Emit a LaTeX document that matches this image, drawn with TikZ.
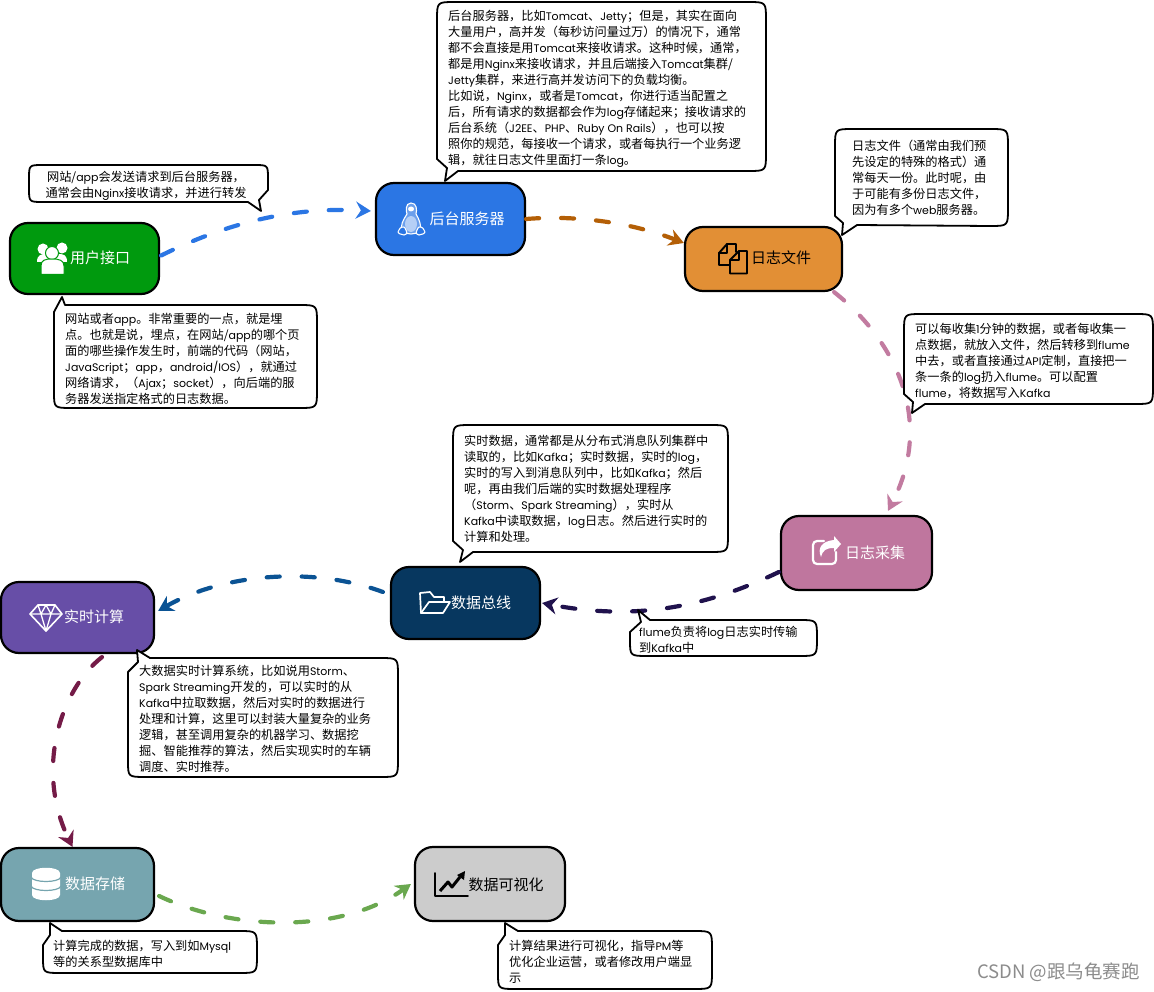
\documentclass[tikz,border=0pt]{standalone}
\usepackage{fontspec}
\setmainfont{Noto Sans CJK SC}
\newfontfamily\latfont[Scale=0.9]{Poppins}
\newcommand\la[1]{{\latfont #1}}
\usetikzlibrary{arrows.meta}
\definecolor{cuser}{HTML}{009A0E}
\definecolor{cserver}{HTML}{2B76E4}
\definecolor{clog}{HTML}{E28F35}
\definecolor{ccollect}{HTML}{BF769E}
\definecolor{cbus}{HTML}{07375F}
\definecolor{ccalc}{HTML}{674EA7}
\definecolor{cstore}{HTML}{76A5AF}
\definecolor{cvis}{HTML}{CCCCCC}
\definecolor{lbrown}{HTML}{B45F06}
\definecolor{lpink}{HTML}{C27BA0}
\definecolor{lnavy}{HTML}{20124D}
\definecolor{lblue}{HTML}{0B5394}
\definecolor{lmaroon}{HTML}{741B47}
\definecolor{lgreen}{HTML}{6AA84F}
\tikzset{
  flowbox/.style={draw=black,line width=2.2pt,rounded corners=18pt,inner sep=0pt},
  flowtext/.style={font=\fontsize{15}{18}\selectfont,text=white,inner sep=0pt},
  conn/.style={line width=4.2pt,line cap=round,dash pattern=on 13pt off 22pt,-{Stealth[length=15pt,width=17pt,inset=5pt]}},
  callbox/.style={draw=black,line width=1.8pt,fill=white,line join=round},
  calltext/.style={font=\fontsize{12.2}{16}\selectfont,anchor=west,align=left,inner sep=0pt,text=black},
  iconw/.style={draw=white,line width=1.7pt,line join=round,line cap=round},
  iconk/.style={draw=black,line width=1.9pt,line join=round,line cap=round}
}
% callouts: tail at bottom-left, top-left, bottom-right
\newcommand\boxBL[5]{\draw[callbox] (#1+18,#2) -- (#3-18,#2) .. controls (#3,#2) .. (#3,#2+18) -- (#3,#4-18) .. controls (#3,#4) .. (#3-18,#4) -- #5 -- (#1,#2+18) .. controls (#1,#2) .. (#1+18,#2) -- cycle;}
\newcommand\boxTL[5]{\draw[callbox] (#3-18,#2) .. controls (#3,#2) .. (#3,#2+18) -- (#3,#4-18) .. controls (#3,#4) .. (#3-18,#4) -- (#1+18,#4) .. controls (#1,#4) .. (#1,#4-16) -- #5 -- cycle;}
\newcommand\boxBR[5]{\draw[callbox] (#1+14,#2) -- (#3-14,#2) .. controls (#3,#2) .. (#3,#2+14) -- #5 -- (#1+14,#4) .. controls (#1,#4) .. (#1,#4-14) -- (#1,#2+14) .. controls (#1,#2) .. (#1+14,#2) -- cycle;}
\begin{document}
\begin{tikzpicture}[x=1pt,y=-1pt]
\useasboundingbox[fill=white] (0,0) rectangle (1154,992);

% flow boxes
\node[flowbox,fill=cuser,minimum width=149pt,minimum height=71pt] (user) at (84.5,258.5) {};
\node[flowbox,fill=cserver,minimum width=149pt,minimum height=72pt] (server) at (450.5,219) {};
\node[flowbox,fill=clog,minimum width=157pt,minimum height=64pt] (logf) at (763.5,259) {};
\node[flowbox,fill=ccollect,minimum width=151pt,minimum height=74pt] (collect) at (856.5,553) {};
\node[flowbox,fill=cbus,minimum width=149pt,minimum height=72pt] (bus) at (465.5,603) {};
\node[flowbox,fill=ccalc,minimum width=153pt,minimum height=71pt] (calc) at (77.5,617.5) {};
\node[flowbox,fill=cstore,minimum width=153pt,minimum height=73pt] (store) at (77.5,884.5) {};
\node[flowbox,fill=cvis,minimum width=150pt,minimum height=74pt] (vis) at (490,884) {};

% flow labels
\node[flowtext] (tuser) at (100,258) {用户接口};
\node[flowtext] (tserver) at (467,219) {后台服务器};
\node[flowtext,text=black] (tlog) at (781,258) {日志文件};
\node[flowtext] (tcollect) at (875,553) {日志采集};
\node[flowtext] (tbus) at (481,603) {数据总线};
\node[flowtext] (tcalc) at (94,617) {实时计算};
\node[flowtext] (tstore) at (95,884) {数据存储};
\node[flowtext,text=black] (tvis) at (506,885) {数据可视化};

% connectors
\draw[conn,draw=cserver] ([xshift=1pt,yshift=3pt]user.east) .. controls (235,219) and (300,207) .. ([xshift=-4pt,yshift=8pt]server.west);
\draw[conn,draw=lbrown] (server.east) .. controls (575,215) and (630,222) .. ([yshift=16pt]logf.west);
\draw[conn,draw=lpink] ([xshift=-9pt]logf.south east) .. controls (895,340) and (935,420) .. ([xshift=31.5pt,yshift=4pt]collect.north);
\draw[conn,draw=lnavy] ([xshift=-1pt,yshift=-19pt]collect.west) .. controls (700,610) and (630,620) .. ([xshift=1pt]bus.east);
\draw[conn,draw=lblue] ([xshift=-7pt,yshift=11pt]bus.west) .. controls (310,565) and (220,575) .. ([xshift=3pt,yshift=6.5pt]calc.east);
\draw[conn,draw=lmaroon] ([xshift=24.5pt,yshift=-3pt]calc.south) .. controls (60,690) and (35,770) .. ([xshift=-5pt]store.north);
\draw[conn,draw=lgreen] ([xshift=4pt,yshift=-11.5pt]store.east) .. controls (230,930) and (340,935) .. ([xshift=-3pt]vis.west);

% callouts
\boxBR{29}{165}{268}{202}{(268,190) -- (259,200) -- (261,211) -- (248,202)}
\node[calltext,align=center,anchor=center] (c1) at (146,186) {网站/\la{app}会发送请求到后台服务器，\\通常会由\la{Nginx}接收请求，并进行转发};

\boxTL{54}{305}{317}{408}{(54,318) -- (54,312) -- (62,297) -- (65,305) -- (77,305)}
\node[calltext] (c2) at (65,359) {网站或者\la{app}。非常重要的一点，就是埋\\点。也就是说，埋点，在网站/\la{app}的哪个页\\面的哪些操作发生时，前端的代码（网站，\\\la{JavaScript}；\la{app}，\la{android/IOS}），就通过\\网络请求，（\la{Ajax}；\la{socket}），向后端的服\\务器发送指定格式的日志数据。};

\boxBL{437}{2}{766}{171}{(458,171) -- (445,181) -- (447,168) -- (437,159)}
\node[calltext] (c3) at (448,88.5) {后台服务器，比如\la{Tomcat}、\la{Jetty}；但是，其实在面向\\大量用户，高并发（每秒访问量过万）的情况下，通常\\都不会直接是用\la{Tomcat}来接收请求。这种时候，通常，\\都是用\la{Nginx}来接收请求，并且后端接入\la{Tomcat}集群/\\\la{Jetty}集群，来进行高并发访问下的负载均衡。\\比如说，\la{Nginx}，或者是\la{Tomcat}，你进行适当配置之\\后，所有请求的数据都会作为\la{log}存储起来；接收请求的\\后台系统（\la{J2EE}、\la{PHP}、\la{Ruby On Rails}），也可以按\\照你的规范，每接收一个请求，或者每执行一个业务逻\\辑，就往日志文件里面打一条\la{log}。};

\boxBL{835}{129}{1008}{226}{(857,225) -- (842,235) -- (843,223) -- (835,216)}
\node[calltext] (c4) at (852,178) {日志文件（通常由我们预\\先设定的特殊的格式）通\\常每天一份。此时呢，由\\于可能有多份日志文件，\\因为有多个\la{web}服务器。};

\boxBL{904}{314}{1153}{404}{(925,404) -- (912,413) -- (913,402) -- (904,394)}
\node[calltext] (c5) at (915,361) {可以每收集\la{1}分钟的数据，或者每收集一\\点数据，就放入文件，然后转移到\la{flume}\\中去，或者直接通过\la{API}定制，直接把一\\条一条的\la{log}扔入\la{flume}。可以配置\\\la{flume}，将数据写入\la{Kafka}};

\boxBL{453}{425}{728}{552}{(473,552) -- (460,562) -- (463,550) -- (453,541)}
\node[calltext] (c6) at (464,489) {实时数据，通常都是从分布式消息队列集群中\\读取的，比如\la{Kafka}；实时数据，实时的\la{log}，\\实时的写入到消息队列中，比如\la{Kafka}；然后\\呢，再由我们后端的实时数据处理程序\\（\la{Storm}、\la{Spark Streaming}），实时从\\\la{Kafka}中读取数据，\la{log}日志。然后进行实时的\\计算和处理。};

\boxTL{630}{620}{817}{656}{(630,632) -- (641,622) -- (638,610) -- (650,620) -- (665,620)}
\node[calltext] (c7) at (639,640) {\la{flume}负责将\la{log}日志实时传输\\到\la{Kafka}中};

\boxTL{128}{658}{398}{777}{(128,672) -- (138,662) -- (137,650) -- (150,658) -- (165,658)}
\node[calltext] (c8) at (139,719) {大数据实时计算系统，比如说用\la{Storm}、\\\la{Spark Streaming}开发的，可以实时的从\\\la{Kafka}中拉取数据，然后对实时的数据进行\\处理和计算，这里可以封装大量复杂的业务\\逻辑，甚至调用复杂的机器学习、数据挖\\掘、智能推荐的算法，然后实现实时的车辆\\调度、实时推荐。};

\boxTL{43}{931}{257}{973}{(43,945) -- (50,935) -- (50,923) -- (62,931) -- (75,931)}
\node[calltext] (c9) at (53,954) {计算完成的数据，写入到如\la{Mysql}\\等的关系型数据库中};

\boxTL{498}{931}{712}{989}{(498,945) -- (505,935) -- (505,923) -- (518,931) -- (530,931)}
\node[calltext] (c10) at (509,962) {计算结果进行可视化，指导\la{PM}等\\优化企业运营，或者修改用户端显\\示};

% icon: users
\fill[white] (43,249) circle[radius=5.5pt] (62,248) circle[radius=5.5pt];
\fill[white] (37,262) .. controls (37,255) and (41,254) .. (46,254) -- (58,254) .. controls (64,254) and (67,255) .. (67,262) -- cycle;
\draw[draw=cuser,fill=white,line width=1pt] (52,253) circle[radius=6.5pt];
\draw[draw=cuser,fill=white,line width=1pt] (41,274.5) -- (41,266) .. controls (41,260) and (45,259) .. (52,259) .. controls (59,259) and (64,260) .. (64,266) -- (64,274.5) -- cycle;

% icon: penguin
\draw[iconw,line width=1.1pt,fill=cserver!70!white] (411,203) .. controls (405,203) and (406,212) .. (407,214) .. controls (403,220) and (400,226) .. (402,231) .. controls (406,235) and (416,235) .. (420,231) .. controls (422,226) and (419,219) .. (416,214) .. controls (417,210) and (417,203) .. (411,203) -- cycle;
\fill[white] (411,209) ellipse[x radius=3pt,y radius=2.5pt];
\fill[cserver!35!white] (411,224) ellipse[x radius=6pt,y radius=8pt];
\draw[iconw,line width=1.1pt,fill=cserver] (399,230) .. controls (400,227) and (404,226) .. (405,228) .. controls (407,232) and (408,234) .. (404,235) .. controls (401,235) and (398,233) .. (398,232) -- cycle;
\draw[iconw,line width=1.1pt,fill=cserver] (424,230) .. controls (423,227) and (419,226) .. (418,228) .. controls (416,232) and (415,234) .. (419,235) .. controls (422,235) and (425,233) .. (425,232) -- cycle;

% icon: copy
\draw[iconk] (729,265) -- (719,265) -- (719,253) -- (727,244) -- (736,244) -- (736,252);
\draw[iconk] (727,244) -- (727,253) -- (719,253);
\draw[iconk] (730,260) -- (739,251) -- (747,251) -- (747,273.5) -- (730,273.5) -- cycle;
\draw[iconk] (739,251) -- (739,260) -- (730,260);

% icon: share
\draw[iconw,line width=2.2pt,rounded corners=4pt] (824,541) -- (813,541) -- (813,564) -- (836,564) -- (836,552);
\fill[white] (834,536) -- (841,544) -- (834,552) -- (834,548) .. controls (826,548) and (823,550) .. (821,557) .. controls (817,548) and (822,541) .. (834,540) -- cycle;

% icon: folder
\draw[iconw] (421,613) -- (420,593) -- (430,592) -- (434,597) -- (444,597) -- (444,602);
\draw[iconw] (421,613) -- (443,613) -- (450,602) -- (429,602) -- cycle;

% icon: diamond
\draw[iconw,line width=1.6pt] (38,605) -- (55,605) -- (62,614) -- (46,631) -- (30,614) -- cycle;
\draw[iconw,line width=1.3pt] (30,614) -- (62,614) (41,614) -- (46,631) -- (51,614) (38,605) -- (41,614) -- (46,605) -- (51,614) -- (55,605);

% icon: database
\fill[white] (32,873) -- (32,895) .. controls (32,902) and (60,902) .. (60,895) -- (60,873) .. controls (60,866) and (32,866) .. (32,873) -- cycle;
\draw[draw=cstore,line width=1.2pt] (31,877) .. controls (33,883) and (59,883) .. (61,877);
\draw[draw=cstore,line width=1.2pt] (31,886) .. controls (33,892) and (59,892) .. (61,886);

% icon: chart
\draw[iconk] (435,873) -- (435,896) -- (468,896);
\draw[black,line width=3pt,line join=round] (440,891) -- (448,882) -- (452,887) -- (460,877);
\fill[black] (457,875) -- (465,871) -- (464,880) -- cycle;

% watermark
\node[inner sep=0pt,anchor=east,text=black!45,font=\fontsize{18.5}{20}\selectfont] (mark) at (1140,972) {CSDN @跟乌龟赛跑};
\end{tikzpicture}
\end{document}
